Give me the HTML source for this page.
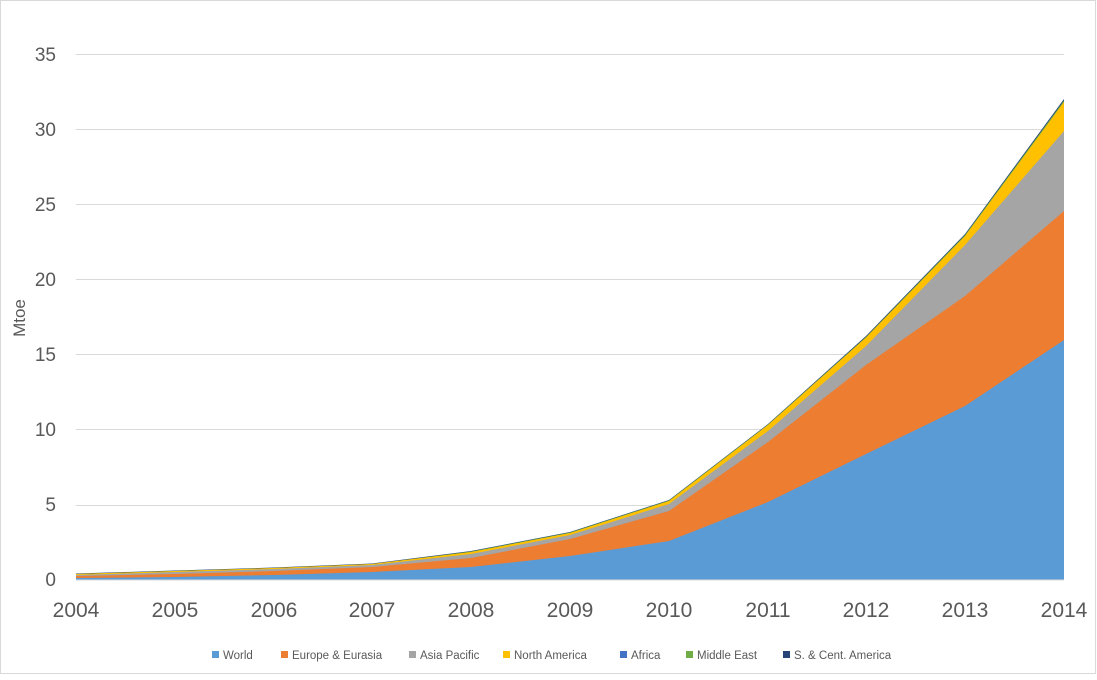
<!DOCTYPE html>
<html><head><meta charset="utf-8"><style>
body{margin:0;background:#fff}
svg text{font-family:"Liberation Sans",sans-serif;fill:#595959}
</style></head><body>
<svg width="1097" height="675" xmlns="http://www.w3.org/2000/svg">
<rect x="0.5" y="0.5" width="1095" height="673" fill="#fff" stroke="#d9d9d9"/>
<g stroke="#d9d9d9" stroke-width="1">
<line x1="76" x2="1064" y1="54.5" y2="54.5"/>
<line x1="76" x2="1064" y1="129.5" y2="129.5"/>
<line x1="76" x2="1064" y1="204.5" y2="204.5"/>
<line x1="76" x2="1064" y1="279.5" y2="279.5"/>
<line x1="76" x2="1064" y1="354.5" y2="354.5"/>
<line x1="76" x2="1064" y1="429.5" y2="429.5"/>
<line x1="76" x2="1064" y1="505.5" y2="505.5"/>
</g>
<polygon fill="#264478" points="76,580 76,573.5 175,570.5 274,567.5 372,563.5 471,551 570,532 669,500 768,424 866,336 965,234 1064,99 1064,580"/>
<polygon fill="#70AD47" points="76,580 76,574 175,571 274,568 372,564 471,551.5 570,532.5 669,500.5 768,424.5 866,337 965,235 1064,100.5 1064,580"/>
<polygon fill="#FFC000" points="76,580 76,574 175,571 274,568 372,564 471,552 570,533 669,501 768,425 866,337.5 965,236 1064,102 1064,580"/>
<polygon fill="#A5A5A5" points="76,580 76,575 175,572 274,569 372,565 471,554 570,535 669,504 768,431 866,346 965,245 1064,131 1064,580"/>
<polygon fill="#ED7D31" points="76,580 76,576 175,574 274,571 372,567 471,558 570,539 669,511 768,442 866,365 965,296 1064,211 1064,580"/>
<polygon fill="#5B9BD5" points="76,580 76,578 175,577 274,575 372,572 471,567 570,556 669,541 768,502 866,454 965,406 1064,340 1064,580"/>
<line x1="76" x2="1064" y1="580" y2="580" stroke="#d9d9d9"/>
<g font-size="19" text-anchor="end">
<text x="56" y="586">0</text><text x="56" y="511">5</text><text x="56" y="436">10</text>
<text x="56" y="361">15</text><text x="56" y="286">20</text><text x="56" y="211">25</text>
<text x="56" y="136">30</text><text x="56" y="61">35</text>
</g>
<g font-size="21" text-anchor="middle">
<text x="76" y="617">2004</text><text x="175" y="617">2005</text><text x="274" y="617">2006</text>
<text x="372" y="617">2007</text><text x="471" y="617">2008</text><text x="570" y="617">2009</text>
<text x="669" y="617">2010</text><text x="768" y="617">2011</text><text x="866" y="617">2012</text>
<text x="965" y="617">2013</text><text x="1064" y="617">2014</text>
</g>
<text x="25" y="318" font-size="17" text-anchor="middle" transform="rotate(-90 25 318)">Mtoe</text>
<g font-size="11.5">
<rect x="212" y="651" width="7" height="7" fill="#5B9BD5"/><text x="223" y="659">World</text>
<rect x="281" y="651" width="7" height="7" fill="#ED7D31"/><text x="292" y="659">Europe &amp; Eurasia</text>
<rect x="409" y="651" width="7" height="7" fill="#A5A5A5"/><text x="420" y="659">Asia Pacific</text>
<rect x="503" y="651" width="7" height="7" fill="#FFC000"/><text x="514" y="659">North America</text>
<rect x="620" y="651" width="7" height="7" fill="#4472C4"/><text x="631" y="659">Africa</text>
<rect x="686" y="651" width="7" height="7" fill="#70AD47"/><text x="697" y="659">Middle East</text>
<rect x="783" y="651" width="7" height="7" fill="#264478"/><text x="794" y="659">S. &amp; Cent. America</text>
</g>
</svg>
</body></html>
